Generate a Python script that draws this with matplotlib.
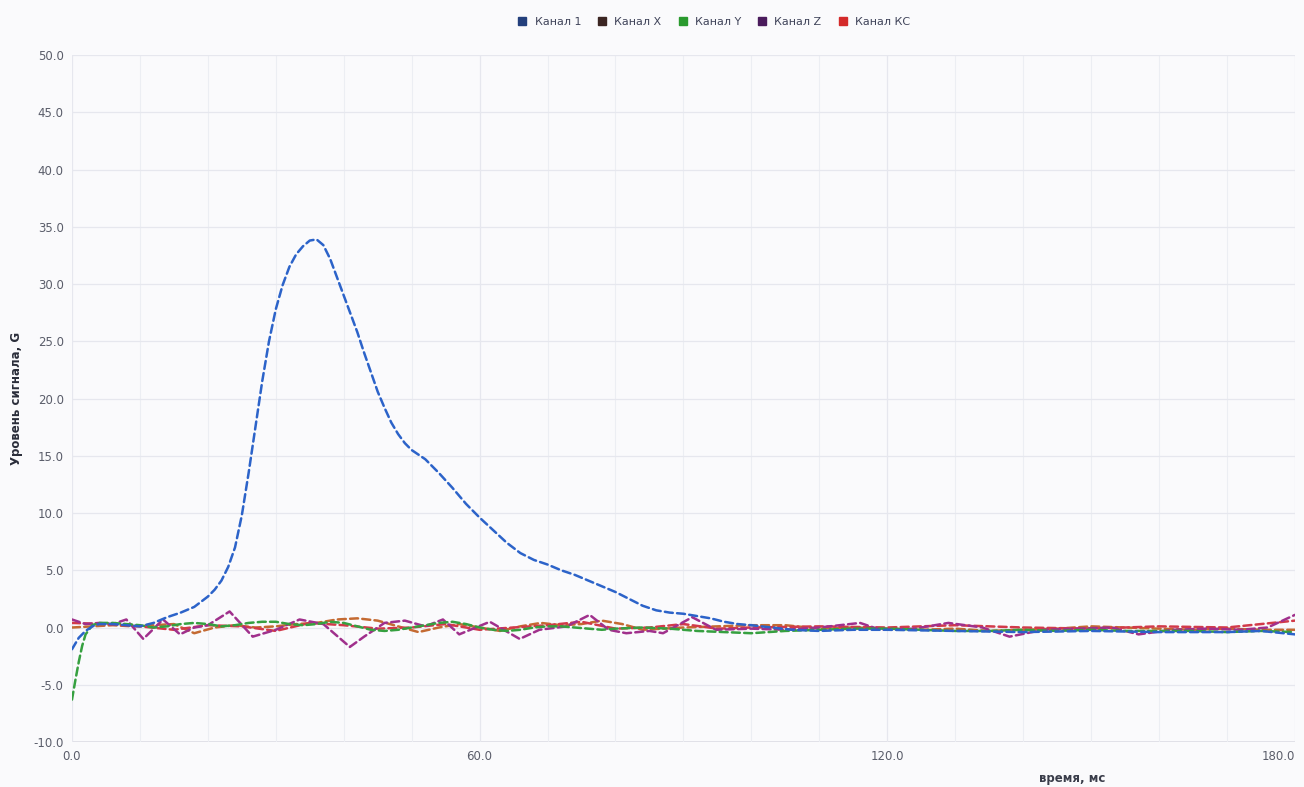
import matplotlib
matplotlib.use("Agg")
import matplotlib.pyplot as plt
from matplotlib.lines import Line2D

# ---- data -------------------------------------------------------------
ch1_t = [0, 1, 2, 3, 4, 6, 8, 10, 12, 14, 16, 18, 20, 21, 22, 23, 24, 25, 26, 27,
         28, 29, 30, 31, 32, 33, 34, 35, 36, 37, 38, 39, 40, 41, 42, 43, 44, 45, 46,
         47, 48, 49, 50, 52, 54, 56, 58, 60, 62, 64, 66, 68, 70, 72, 74, 76, 78, 80,
         82, 84, 86, 88, 90, 92, 94, 96, 98, 100, 103, 106, 110, 115, 120, 130, 140,
         150, 160, 170, 175, 180]
ch1_v = [-1.9, -0.9, -0.3, 0.1, 0.3, 0.3, 0.2, 0.1, 0.4, 0.9, 1.3, 1.8, 2.7, 3.3,
         4.1, 5.3, 7.0, 9.8, 13.5, 17.5, 21.5, 25.0, 27.8, 29.9, 31.5, 32.6, 33.3,
         33.8, 33.9, 33.4, 32.2, 30.6, 29.0, 27.4, 25.8, 24.0, 22.3, 20.6, 19.2, 17.9,
         16.9, 16.1, 15.5, 14.7, 13.5, 12.2, 10.8, 9.6, 8.5, 7.4, 6.5, 5.9, 5.5, 5.0,
         4.6, 4.1, 3.6, 3.1, 2.5, 1.9, 1.5, 1.3, 1.2, 1.0, 0.8, 0.5, 0.3, 0.2, 0.0,
         -0.2, -0.3, -0.2, -0.2, -0.3, -0.4, -0.3, -0.4, -0.4, -0.3, -0.6]

chx_t = [0, 3, 6, 9, 12, 15, 18, 21, 24, 27, 30, 33, 36, 39, 42, 45, 48, 51, 54, 57,
         60, 63, 66, 69, 72, 75, 78, 81, 84, 87, 90, 95, 100, 105, 110, 115, 120, 125,
         130, 135, 140, 145, 150, 155, 160, 165, 170, 175, 180]
chx_v = [0.0, 0.1, 0.2, 0.1, 0.2, 0.3, -0.5, 0.0, 0.2, 0.0, 0.1, 0.3, 0.4, 0.7, 0.8,
         0.6, 0.1, -0.4, 0.0, 0.3, 0.0, -0.3, 0.1, 0.4, 0.2, 0.3, 0.6, 0.3, -0.2, -0.1,
         0.0, 0.1, 0.2, 0.2, -0.1, 0.0, -0.1, -0.2, -0.1, -0.3, -0.2, -0.1, 0.1, 0.0,
         -0.1, -0.2, -0.1, -0.2, -0.2]

chy_t = [0, 0.5, 1, 1.5, 2, 3, 4, 6, 8, 10, 12, 14, 16, 18, 20, 22, 24, 26, 28, 30,
         32, 34, 36, 38, 40, 42, 44, 46, 48, 50, 52, 54, 56, 58, 60, 62, 64, 66, 68,
         70, 72, 74, 76, 78, 80, 84, 88, 92, 96, 100, 105, 110, 115, 120, 125, 130,
         135, 140, 145, 150, 155, 160, 165, 170, 175, 180]
chy_v = [-6.3, -4.6, -3.0, -1.6, -0.6, 0.2, 0.4, 0.4, 0.3, 0.2, 0.0, 0.1, 0.3, 0.4,
         0.3, 0.1, 0.2, 0.4, 0.5, 0.5, 0.3, 0.2, 0.3, 0.5, 0.4, 0.1, -0.2, -0.3, -0.2,
         0.0, 0.2, 0.4, 0.5, 0.3, 0.0, -0.2, -0.3, -0.2, 0.0, 0.1, 0.1, 0.0, -0.1,
         -0.2, -0.1, 0.0, -0.1, -0.3, -0.4, -0.5, -0.3, -0.2, -0.1, -0.1, -0.2, -0.3,
         -0.3, -0.2, -0.3, -0.2, -0.3, -0.3, -0.3, -0.4, -0.3, -0.4]

chz_t = [0, 2, 4, 6, 8, 10.5, 13.4, 15.9, 18, 20, 23.2, 26.6, 30, 33.5, 37, 40.9, 43,
         46, 49, 52, 54.6, 57, 61.5, 65.9, 68.8, 72.8, 76.2, 79, 81.6, 85, 87, 91.3,
         94.8, 100, 105, 110, 116, 119, 124, 129, 134, 138, 143, 148, 153, 157, 162,
         167, 172, 176, 180]
chz_v = [0.7, 0.3, 0.4, 0.3, 0.7, -1.0, 0.7, -0.6, 0.0, 0.2, 1.4, -0.8, -0.2, 0.7,
         0.3, -1.7, -0.8, 0.4, 0.6, 0.1, 0.7, -0.6, 0.5, -1.0, -0.2, 0.1, 1.1, -0.2,
         -0.5, -0.3, -0.5, 0.9, -0.2, -0.1, -0.2, 0.0, 0.4, -0.2, -0.1, 0.4, 0.0, -0.8,
         -0.2, -0.1, 0.0, -0.6, -0.2, -0.1, -0.2, 0.0, 1.1]

chkc_t = [0, 5, 10, 15, 20, 25, 30, 35, 40, 45, 50, 55, 60, 65, 70, 75, 80, 85, 90,
          95, 100, 110, 120, 130, 140, 150, 160, 170, 180]
chkc_v = [0.4, 0.3, 0.1, -0.2, 0.2, 0.1, -0.3, 0.4, 0.2, -0.1, 0.0, 0.3, -0.2, 0.0,
          0.2, 0.5, -0.1, 0.0, 0.3, -0.1, 0.0, 0.1, 0.0, 0.2, 0.0, -0.1, 0.1, 0.0, 0.6]

series_names = ["Канал 1", "Канал X", "Канал Y", "Канал Z", "Канал КС"]
legend_colors = ["#233f7c", "#3b2522", "#2a9a2e", "#4a1b5c", "#d42a2a"]
line_colors = ["#2c63c9", "#c46a32", "#36a040", "#a0308c", "#d23a4a"]

x_ticks = [0, 60, 120, 180]
y_ticks = [-10, -5, 0, 5, 10, 15, 20, 25, 30, 35, 40, 45, 50]

# ---- figure -----------------------------------------------------------
bg = "#fafafc"
fig = plt.figure(figsize=(13.04, 7.87), dpi=100, facecolor=bg)
ax = fig.add_axes([0.0552, 0.0572, 0.9378, 0.8728], facecolor=bg)

dash = (3.2, 1.7)
lw = 1.8
series = [(chx_t, chx_v, 1), (chkc_t, chkc_v, 4), (chz_t, chz_v, 3),
          (chy_t, chy_v, 2), (ch1_t, ch1_v, 0)]
for t, v, idx in series:
    ax.plot(t, v, color=line_colors[idx], lw=lw, dashes=dash,
            solid_capstyle="round", dash_capstyle="round", zorder=3 + (idx == 0))

ax.set_xlim(0, 180)
ax.set_ylim(-10, 50)
ax.set_xticks(x_ticks)
ax.set_xticklabels([f"{v:.1f}" for v in x_ticks])
ax.set_yticks(y_ticks)
ax.set_yticklabels([f"{v:.1f}" for v in y_ticks])
ax.set_xticks(range(0, 181, 10), minor=True)

ax.grid(True, which="major", color="#e6e7ee", lw=0.9)
ax.grid(True, which="minor", axis="x", color="#eceef3", lw=0.8)
for s in ax.spines.values():
    s.set_visible(False)
ax.axhline(-10, color="#dcdde5", lw=1.2, zorder=1)

ax.tick_params(axis="both", which="both", length=0, colors="#5a5d6a",
               labelsize=8.5)
ax.tick_params(axis="x", pad=6)
ax.tick_params(axis="y", pad=6)
# keep the last x label inside the canvas
ax.get_xticklabels()[-1].set_horizontalalignment("right")
ax.get_xticklabels()[-1].set_x(180.5)

ax.set_ylabel("Уровень сигнала, G", fontsize=8.5, fontweight="bold",
              color="#2a2d3a")
ax.yaxis.set_label_coords(-0.040, 0.5)
fig.text(0.822, 0.003, "время, мс", fontsize=8.5, fontweight="bold",
         color="#3a3d4a", ha="center", va="bottom")

handles = [Line2D([], [], marker="s", ls="none", markersize=6,
                  markerfacecolor=c, markeredgecolor=c) for c in legend_colors]
fig.legend(handles, series_names, loc="center", bbox_to_anchor=(0.545, 0.972),
           ncol=5, frameon=False, fontsize=8, handletextpad=0.1,
           columnspacing=0.9, labelcolor="#40445a")

fig.savefig("out.png", dpi=100, facecolor=bg)
